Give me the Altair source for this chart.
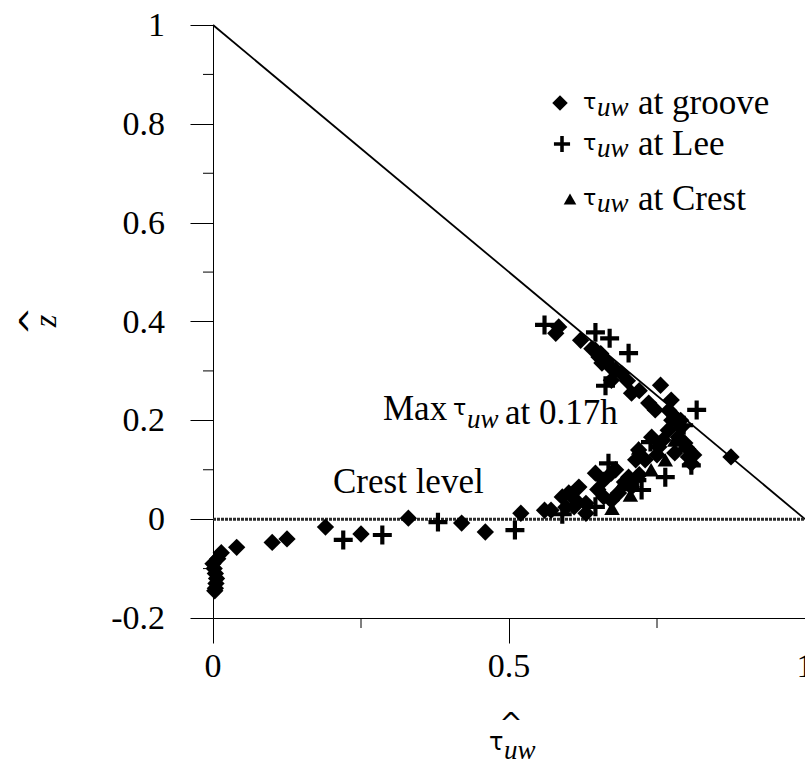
import altair as alt
import pandas as pd

# ---------------- data ----------------
groove_x = [0.000, 0.002, 0.004, 0.006, 0.005, 0.004, 0.003, 0.008, 0.014, 0.040,
            0.100, 0.125, 0.190, 0.250, 0.330, 0.420, 0.460, 0.520, 0.560,
            0.571, 0.596, 0.601, 0.613, 0.618, 0.630, 0.630, 0.646, 0.660, 0.673,
            0.673, 0.685, 0.702, 0.707, 0.714, 0.719, 0.741, 0.753, 0.769, 0.775,
            0.780, 0.786, 0.797, 0.803, 0.808,
            0.590, 0.610, 0.650, 0.660, 0.680, 0.695, 0.720, 0.730, 0.750, 0.760,
            0.790, 0.800, 0.812,
            0.579, 0.584, 0.621, 0.646, 0.652, 0.657, 0.680, 0.690, 0.673, 0.707,
            0.756, 0.736, 0.774, 0.747, 0.780, 0.791, 0.875,
            0.640, 0.655, 0.665, 0.670, 0.700, 0.720, 0.770, 0.785]
groove_y = [-0.090, -0.100, -0.110, -0.120, -0.130, -0.140, -0.145, -0.080, -0.068, -0.057,
            -0.047, -0.040, -0.016, -0.030, 0.002, -0.008, -0.026, 0.012, 0.018,
            0.018, 0.024, 0.053, 0.038, 0.065, 0.032, 0.012, 0.093, 0.079, 0.093,
            0.038, 0.053, 0.085, 0.065, 0.120, 0.140, 0.166, 0.146, 0.180, 0.200,
            0.134, 0.166, 0.154, 0.126, 0.113,
            0.045, 0.025, 0.060, 0.045, 0.100, 0.075, 0.090, 0.120, 0.130, 0.160,
            0.200, 0.145, 0.130,
            0.376, 0.389, 0.362, 0.342, 0.328, 0.316, 0.302, 0.295, 0.281, 0.255,
            0.271, 0.235, 0.241, 0.221, 0.207, 0.186, 0.126,
            0.345, 0.335, 0.320, 0.310, 0.280, 0.260, 0.220, 0.200]

lee_x = [0.220, 0.286, 0.380, 0.510, 0.590, 0.646, 0.668, 0.716, 0.724, 0.739,
         0.764, 0.808, 0.560, 0.646, 0.670, 0.702, 0.663, 0.817, 0.795, 0.800]
lee_y = [-0.042, -0.032, -0.006, -0.022, 0.010, 0.025, 0.113, 0.079, 0.059, 0.156,
         0.085, 0.109, 0.393, 0.378, 0.366, 0.336, 0.270, 0.221, 0.190, 0.140]

crest_x = [0.674, 0.705, 0.764, 0.719, 0.690, 0.740, 0.780]
crest_y = [0.022, 0.049, 0.120, 0.144, 0.070, 0.100, 0.160]

diag_x = [0, 1]
diag_y = [1, 0]
crestline_x = [0, 1]
crestline_y = [0, 0]

major_y = [-0.2, 0, 0.2, 0.4, 0.6, 0.8, 1]
major_y_labels = ["-0.2", "0", "0.2", "0.4", "0.6", "0.8", "1"]
minor_y = [-0.1, 0.1, 0.3, 0.5, 0.7, 0.9]
major_x = [0, 0.5, 1]
major_x_labels = ["0", "0.5", "1"]
minor_x = [0.25, 0.75]

legend_labels = ["at groove", "at Lee", "at Crest"]

# ---------------- styling ----------------
FONT = "Liberation Serif"
SYM = "DejaVu Sans"
W, H = 592, 593
X0, Y0 = 213, 25
PLUS = "M-1,-0.22H-0.22V-1H0.22V-0.22H1V0.22H0.22V1H-0.22V0.22H-1Z"

xs = alt.Scale(domain=[0, 1], nice=False, zero=False)
ys = alt.Scale(domain=[-0.2, 1], nice=False, zero=False)
one = pd.DataFrame({"k": [0]})

axis_common = dict(labels=False, domainColor="black", tickColor="black",
                   domainWidth=1, tickWidth=1, grid=False, title=None)
AX = alt.Axis(values=major_x, tickSize=25, **axis_common)
AY = alt.Axis(values=major_y, tickSize=23, **axis_common)


def XE(field="x"):
    return alt.X(f"{field}:Q", scale=xs, axis=AX)


def YE(field="y"):
    return alt.Y(f"{field}:Q", scale=ys, axis=AY)


def txt(s, x, y, size=35, font=FONT, style="normal", align="left",
        baseline="alphabetic", angle=0):
    return alt.Chart(one).mark_text(
        text=s, font=font, fontSize=size, fontStyle=style, align=align,
        baseline=baseline, angle=angle, color="black"
    ).encode(x=alt.value(x - X0), y=alt.value(y - Y0))


def sym(shape, x, y, size):
    return alt.Chart(one).mark_point(
        shape=shape, size=size, filled=True, color="black", opacity=1
    ).encode(x=alt.value(x - X0), y=alt.value(y - Y0))


diag = alt.Chart(pd.DataFrame({"x": diag_x, "y": diag_y})).mark_line(
    color="black", strokeWidth=1.8
).encode(x=XE(), y=YE())

crestline = alt.Chart(pd.DataFrame({"x": crestline_x, "y": crestline_y})).mark_line(
    color="#2a2a2a", strokeWidth=3, strokeDash=[3, 1]
).encode(x=XE(), y=YE())

minor_y_rules = alt.Chart(pd.DataFrame({"v": minor_y})).mark_rule(
    color="black", strokeWidth=1
).encode(y=YE("v"), x=alt.value(-10), x2=alt.value(0))

minor_x_rules = alt.Chart(pd.DataFrame({"v": minor_x})).mark_rule(
    color="black", strokeWidth=1
).encode(x=XE("v"), y=alt.value(H), y2=alt.value(H + 10))

# tick labels (serif, drawn through the scales)
ylab = alt.Chart(pd.DataFrame({"v": major_y, "t": major_y_labels})).mark_text(
    font=FONT, fontSize=34, align="right", baseline="middle", color="black", dy=1
).encode(y=YE("v"), x=alt.value(-48), text="t:N")

xlab = alt.Chart(pd.DataFrame({"v": major_x, "t": major_x_labels})).mark_text(
    font=FONT, fontSize=34, align="center", baseline="alphabetic", color="black"
).encode(x=XE("v"), y=alt.value(677 - Y0), text="t:N")

pts_g = alt.Chart(pd.DataFrame({"x": groove_x, "y": groove_y})).mark_point(
    shape="diamond", size=300, filled=True, color="black", opacity=1
).encode(x=XE(), y=YE())
pts_l = alt.Chart(pd.DataFrame({"x": lee_x, "y": lee_y})).mark_point(
    shape=PLUS, size=360, filled=True, color="black", opacity=1
).encode(x=XE(), y=YE())
pts_c = alt.Chart(pd.DataFrame({"x": crest_x, "y": crest_y})).mark_point(
    shape="triangle-up", size=240, filled=True, color="black", opacity=1
).encode(x=XE(), y=YE())

layers = [diag, crestline, minor_y_rules, minor_x_rules, ylab, xlab,
          pts_g, pts_l, pts_c]

# legend (manual, to allow the subscript)
leg_rows = [(114, "diamond", 560, 240), (155, PLUS, 562, 260), (210, "triangle-up", 570, 160)]
for (base, shp, mx, msz), lab in zip(leg_rows, legend_labels):
    layers.append(sym(shp, mx, base - 11, msz))
    layers.append(txt("τ", 583, base - 5, size=22, font=SYM))
    layers.append(txt("uw", 597, base + 2, size=27, style="italic"))
    layers.append(txt(lab, 638, base, size=35))

# annotations
layers.append(txt("Crest level", 333, 493))
layers.append(txt("Max", 383, 420))
layers.append(txt("τ", 453, 415, size=22, font=SYM))
layers.append(txt("uw", 467, 428, size=27, style="italic"))
layers.append(txt("at 0.17h", 505, 424))

# axis titles
layers.append(txt("^", 34, 321, size=34, font=SYM, align="center", baseline="middle", angle=270))
layers.append(txt("z", 46, 321, size=32, style="italic", align="center", baseline="middle", angle=270))
layers.append(txt("^", 511, 725, size=28, font=SYM, align="center", baseline="middle"))
layers.append(txt("τ", 489, 750, size=24, font=SYM))
layers.append(txt("uw", 504, 759, size=27, style="italic"))

chart = alt.layer(*layers).properties(
    width=W, height=H,
    background="white",
    autosize=alt.AutoSizeParams(type="none"),
    padding={"left": X0, "top": Y0, "right": 0, "bottom": 759 - Y0 - H},
).configure_view(stroke=None)

chart.save("out.html", embed_options={"renderer": "svg", "actions": False})
